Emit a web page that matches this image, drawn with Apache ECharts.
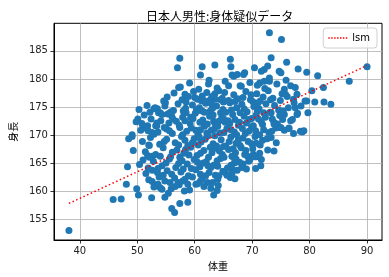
<!DOCTYPE html>
<html><head><meta charset="utf-8">
<script src="https://cdn.jsdelivr.net/npm/echarts@6/dist/echarts.min.js"></script>
<style>html,body{margin:0;padding:0;background:#fff}#c{width:389px;height:277px}</style>
</head><body><div id="c"></div>
<script>
const titleText = '日本人男性:身体疑似データ';
const xName = '体重';
const yName = '身長';
const seriesName = 'lsm';
const xTicks = [40, 50, 60, 70, 80, 90];
const yTicks = [155, 160, 165, 170, 175, 180, 185];
// sparse / edge points
const weightEdge = [38.1,45.8,47.2,48.1,48.3,49.3,48.5,49.1,49.9,50.2,52.1,51.0,51.8,52.6,52.0,52.6,53.5,52.5,53.5,50.1,50.9,51.9,52.9,53.5,54.0,49.1,53.2,52.6,
57.4,57.0,61.3,63.5,61.0,62.5,66.2,66.3,66.5,57.2,58.3,58.3,61.3,63.5,64.8,65.9,61.6,62.7,65.0,54.8,53.7,54.3,55.7,56.0,55.5,53.4,55.1,57.4,58.5,59.3,60.4,61.3,61.6,63.3,64.5,65.3,
73.0,75.1,73.3,76.0,78.0,79.5,70.4,72.7,72.1,71.6,74.7,75.0,66.8,67.4,68.5,68.7,71.3,72.1,73.0,73.0,67.9,76.7,77.5,75.6,75.8,77.8,77.2,79.2,77.5,77.8,77.0,75.6,75.3,73.8,74.4,74.7,76.4,73.3,
90.0,81.4,86.9,82.4,80.4,79.5,80.9,82.5,83.7,79.7,79.0,
63.3,58.8,57.4,56.0,56.5,54.8,55.4,54.3,53.6,54.8,55.7,57.1,57.9,58.8,60.2,61.0,62.2,64.2,65.3,66.5,
66.5,68.2,68.4,71.5,71.6,70.7,73.8,73.3,78.4,76.4,75.0,69.6,70.2,67.0,66.5,78.7];
const heightEdge = [153.1,158.6,158.7,161.3,164.4,167.3,169.4,169.8,160.5,159.4,168.2,165.6,166.4,166.3,162.1,161.8,161.1,158.9,163.4,172.9,171.2,170.8,174.7,174.7,174.0,170.1,171.7,170.5,
183.7,182.0,182.2,182.5,180.7,179.8,183.5,182.2,180.7,178.5,177.3,176.4,177.0,177.4,176.6,178.8,176.2,176.3,175.9,175.2,174.0,173.7,174.0,173.4,172.2,171.7,171.1,171.4,174.0,173.2,174.3,174.3,172.0,172.5,174.0,172.3,
188.2,187.0,183.8,183.0,181.8,181.2,182.0,182.3,181.7,181.4,181.4,181.1,180.5,180.8,180.8,181.1,179.3,179.6,179.6,180.2,178.8,178.8,178.5,178.2,177.3,177.3,176.4,176.1,174.9,173.7,172.8,173.7,172.8,172.3,172.0,171.4,171.2,174.0,
182.2,180.6,179.6,178.5,177.9,176.1,175.9,175.9,175.5,174.0,170.8,
159.4,158.1,157.9,157.0,156.3,159.0,159.7,160.4,161.3,161.9,161.6,161.6,161.9,161.3,161.3,161.9,161.6,162.8,163.4,164.0,
163.3,164.3,164.9,164.6,165.7,166.2,167.2,169.6,170.7,171.3,171.4,165.7,166.6,165.7,166.3,170.6];
// dense core of the cloud
const weightCore = [55.2,56.4,58.9,59.8,60.5,62.1,63.0,64.2,66.8,67.5,68.9,69.7,70.8,71.9,72.8,73.6,74.9,76.1,
50.3,51.7,53.1,54.9,56.3,57.1,58.4,59.6,60.8,61.9,62.7,63.8,64.9,66.1,67.3,68.2,69.1,70.3,71.2,72.4,73.9,74.6,76.3,78.5,
49.8,51.2,52.4,54.1,55.3,56.8,57.9,59.2,60.1,61.4,62.6,63.5,64.7,65.8,66.6,67.8,68.6,69.5,70.7,71.6,72.3,73.5,74.8,76.7,77.9,
50.6,51.8,53.6,54.7,56.1,57.3,58.6,59.4,60.6,61.7,62.9,63.9,64.4,65.6,66.9,67.6,68.8,69.9,70.6,71.8,72.9,74.1,75.6,77.2,
50.9,52.3,53.9,55.1,56.6,57.7,58.8,59.9,61.1,62.3,63.2,64.6,65.4,66.3,67.2,68.4,69.3,70.5,71.4,72.6,74.2,
51.4,53.2,54.5,55.8,56.9,58.1,59.3,60.4,61.6,62.4,63.7,64.8,65.9,67.1,68.1,69.2,70.1,71.3,72.7,
50.4,52.8,54.3,55.6,56.7,57.8,58.7,59.9,60.9,62.0,63.3,64.5,65.7,66.9,68.3,69.4,70.6,
51.5,53.8,55.2,56.5,57.6,58.9,60.2,61.3,62.5,63.6,64.9,66.2,67.4,
52.9,55.9,57.3,59.1,60.5,62.8,64.1];
const heightCore = [176.8,177.5,176.9,177.8,176.4,177.6,176.9,177.9,177.2,176.5,177.8,176.3,177.4,176.8,177.9,176.6,176.2,176.9,
174.6,175.3,174.9,175.8,174.4,175.6,174.8,175.4,174.9,175.7,174.3,175.2,174.6,175.8,174.9,175.5,174.2,175.1,174.7,175.6,175.3,174.5,174.9,175.2,
172.4,173.6,172.9,172.6,173.8,172.5,173.2,172.1,173.9,172.7,173.4,172.2,173.1,172.6,173.7,172.3,173.4,172.8,173.6,172.4,173.2,172.9,173.5,172.6,173.9,
170.9,171.7,170.6,171.4,170.3,171.8,170.7,171.3,170.2,171.6,170.9,171.9,170.4,171.2,170.6,171.8,170.3,171.5,170.8,171.9,170.5,171.3,170.9,170.3,
168.9,169.6,168.4,169.3,168.7,169.8,168.2,169.4,168.8,169.9,168.5,169.2,168.1,169.7,168.6,169.5,168.9,169.8,168.3,169.4,168.7,
167.1,166.6,167.8,166.2,167.4,166.8,167.9,166.4,167.3,166.1,167.7,166.6,167.5,166.9,167.8,166.3,167.6,166.8,167.4,
164.8,165.4,164.6,165.8,164.3,165.5,164.9,165.7,164.4,165.3,164.7,165.9,164.2,165.1,164.6,165.4,164.1,
163.2,162.6,163.7,162.4,163.5,162.8,163.9,162.3,163.4,162.9,163.6,162.5,163.8,
160.8,160.5,161.2,160.3,161.4,160.6,161.1];
// more of the dense core
const weightCore2 = [57.5,59.1,60.7,62.4,63.9,65.3,68.1,69.6,70.9,72.2,74.3,75.9,
54.6,57.8,61.2,63.6,65.9,68.4,70.1,71.4,73.2,75.2,77.3,
52.2,55.9,58.0,60.3,63.1,65.4,67.9,70.9,73.1,75.4,
50.8,53.4,56.2,58.3,60.9,64.2,66.1,69.0,71.1,73.8,
52.9,55.6,57.9,60.2,62.1,63.4,65.1,67.3,69.4,71.3,73.4,
52.0,54.7,57.2,58.3,60.6,61.8,63.8,66.0,67.9,69.9,71.8,
52.1,54.0,56.1,57.4,59.0,61.0,63.0,64.3,66.5,68.7,70.5,
51.9,53.6,55.0,57.2,59.4,61.5,62.8,64.0,66.3,67.8,
52.6,54.5,56.0,58.3,59.6,61.9,64.0,65.6,67.0,
54.0,56.6,58.2,61.6,63.9];
const heightCore2 = [178.6,179.3,178.2,179.1,178.4,179.6,178.7,179.4,178.9,178.3,179.1,179.8,
176.1,176.3,176.1,176.4,176.2,176.7,176.0,176.1,176.3,177.4,175.8,
174.1,174.2,174.3,174.6,174.8,174.1,174.0,174.3,174.1,174.3,
172.1,172.2,172.9,172.6,172.3,172.5,172.1,172.2,172.9,172.0,
170.2,170.8,170.1,170.9,170.4,171.1,170.5,170.1,170.7,170.1,170.7,
168.3,168.9,168.3,169.1,168.3,169.3,168.1,168.9,168.2,168.5,169.1,
166.1,166.3,167.0,166.1,166.5,166.8,166.9,167.2,166.3,166.6,166.2,
164.2,164.1,165.1,165.0,164.1,165.1,164.3,164.5,164.7,165.2,
163.8,162.9,163.1,162.2,162.6,162.8,162.2,162.9,162.3,
160.7,160.9,160.1,160.9,160.2];
// densest centre
const weightCore3 = [58.5,60.0,61.7,62.9,64.5,65.2,66.4,67.0,68.6,69.8,71.0,72.0,
59.7,61.0,62.2,63.2,64.0,65.0,66.3,67.0,68.3,69.9,70.2,72.0,
58.4,59.6,60.8,62.7,63.5,65.0,66.7,67.6,68.9,70.7,
58.0,60.5,62.3,63.9,65.1,67.2,69.0,61.0,63.1];
const heightCore3 = [175.9,176.7,174.1,175.6,176.3,177.6,174.5,176.0,174.7,177.2,175.8,174.0,
173.0,171.0,172.0,173.6,171.6,173.0,171.0,172.8,171.2,173.0,171.7,171.0,
167.5,168.7,169.6,167.9,169.9,168.0,167.6,169.2,167.3,168.6,
164.0,165.2,164.6,165.5,166.1,165.8,164.0,163.1,161.6];
// least-squares line end points
const lsmX = [38.1, 90.0];
const lsmY = [157.9, 182.4];

const pts = [];
weightEdge.forEach((w,i)=>pts.push([w, heightEdge[i]]));
weightCore.forEach((w,i)=>pts.push([w, heightCore[i]]));
weightCore2.forEach((w,i)=>pts.push([w, heightCore2[i]]));
weightCore3.forEach((w,i)=>pts.push([w, heightCore3[i]]));
const lineData = lsmX.map((x,i)=>[x, lsmY[i]]);

const font = 'DejaVu Sans';
const axisCommon = {
  axisLine:{show:true, onZero:false, lineStyle:{color:'#000', width:1}},
  axisTick:{show:true, inside:false, length:3.5, lineStyle:{color:'#000', width:0.8}},
  splitLine:{show:true, lineStyle:{color:'#b0b0b0', width:0.8}},
  axisLabel:{color:'#222', fontFamily:font, fontSize:10},
  nameTextStyle:{color:'#000', fontFamily:'Noto Sans CJK JP', fontSize:10}
};
const dotted = 'path://M0,0h2v2h-2zM4,0h2v2h-2zM8,0h2v2h-2zM12,0h2v2h-2zM16,0h2v2h-2zM20,0h2v2h-2zM24,0h2v2h-2z';
const chart = echarts.init(document.getElementById('c'), null, {renderer:'canvas'});
chart.setOption({
  animation:false,
  backgroundColor:'#fff',
  title:{text:titleText, left:214.7, top:5, textAlign:'center',
    textStyle:{fontFamily:'Noto Sans CJK JP', fontSize:12, fontWeight:'normal', color:'#000'}},
  legend:{show:true, right:12, top:28, orient:'vertical',
    data:[{name:seriesName, icon:dotted, itemStyle:{color:'#ff0000'}}],
    itemWidth:19, itemHeight:1.5, itemGap:4, padding:[5,7,5,5],
    borderColor:'#d0d0d0', borderWidth:1, borderRadius:3, backgroundColor:'rgba(255,255,255,0.8)',
    textStyle:{fontFamily:font, fontSize:10, color:'#000'}},
  grid:{left:47.5, right:7, top:23.3, bottom:37, containLabel:false, show:true, borderColor:'#000', borderWidth:1},
  xAxis:Object.assign({}, axisCommon, {type:'value', min:35.5, max:92.6,
    name:xName, nameLocation:'middle', nameGap:20,
    axisTick:Object.assign({}, axisCommon.axisTick, {customValues:xTicks}),
    axisLabel:Object.assign({}, axisCommon.axisLabel, {customValues:xTicks, margin:6}),
  }),
  yAxis:Object.assign({}, axisCommon, {type:'value', min:151.4, max:189.9,
    name:yName, nameLocation:'middle', nameGap:33,
    axisTick:Object.assign({}, axisCommon.axisTick, {customValues:yTicks}),
    axisLabel:Object.assign({}, axisCommon.axisLabel, {customValues:yTicks, margin:6}),
  }),
  series:[
    {type:'scatter', name:'data', data:pts, symbolSize:7, itemStyle:{color:'#1f77b4', opacity:1}, z:2},
    {type:'line', name:seriesName, data:lineData, symbol:'none', showSymbol:false,
      lineStyle:{color:'#ff0000', width:1.5, type:[1.5,2.5]}, itemStyle:{color:'#ff0000'}, z:3}
  ]
});
</script></body></html>
